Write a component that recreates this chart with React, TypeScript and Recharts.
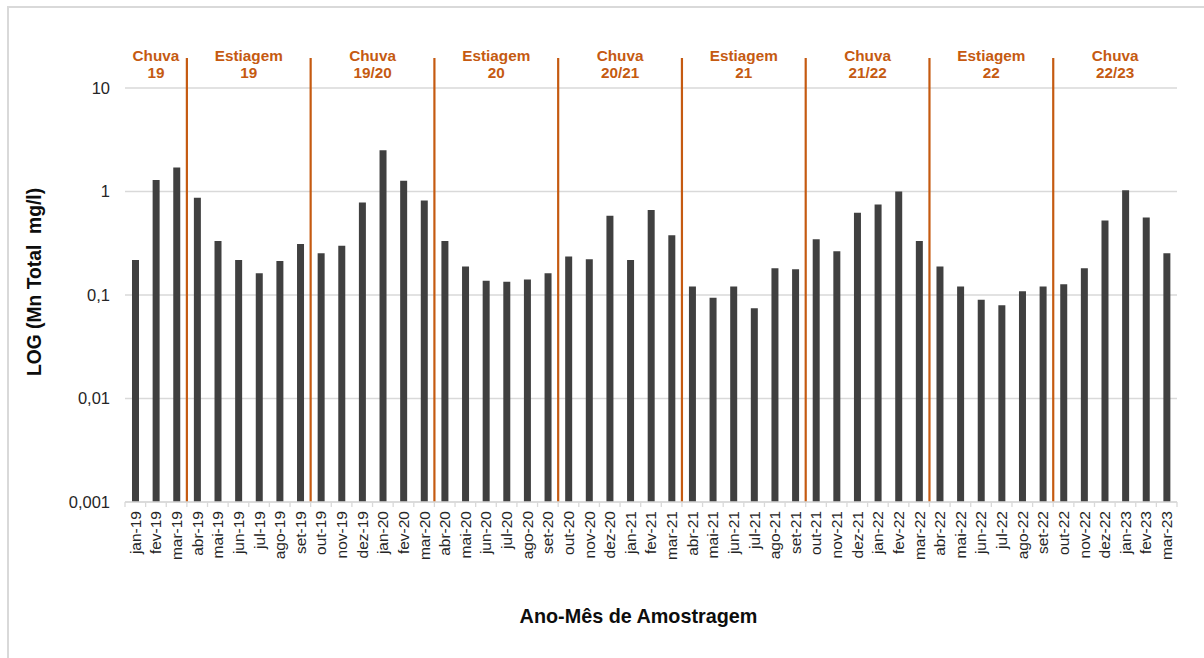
import React from 'react';
import { BarChart, Bar, XAxis, YAxis, CartesianGrid, ReferenceArea } from 'recharts';

const months: string[] = [
  'jan-19', 'fev-19', 'mar-19', 'abr-19', 'mai-19', 'jun-19', 'jul-19', 'ago-19', 'set-19', 'out-19', 'nov-19', 'dez-19',
  'jan-20', 'fev-20', 'mar-20', 'abr-20', 'mai-20', 'jun-20', 'jul-20', 'ago-20', 'set-20', 'out-20', 'nov-20', 'dez-20',
  'jan-21', 'fev-21', 'mar-21', 'abr-21', 'mai-21', 'jun-21', 'jul-21', 'ago-21', 'set-21', 'out-21', 'nov-21', 'dez-21',
  'jan-22', 'fev-22', 'mar-22', 'abr-22', 'mai-22', 'jun-22', 'jul-22', 'ago-22', 'set-22', 'out-22', 'nov-22', 'dez-22',
  'jan-23', 'fev-23', 'mar-23',
];

const mnTotal: number[] = [
  0.218, 1.29, 1.71, 0.869, 0.332, 0.218, 0.162, 0.213, 0.311, 0.253, 0.299, 0.784,
  2.51, 1.27, 0.82, 0.332, 0.188, 0.137, 0.134, 0.141, 0.162, 0.236, 0.222, 0.582,
  0.218, 0.661, 0.377, 0.121, 0.094, 0.121, 0.0745, 0.181, 0.177, 0.345, 0.264, 0.622,
  0.75, 1.0, 0.332, 0.188, 0.121, 0.09, 0.0796, 0.109, 0.121, 0.127, 0.181, 0.526,
  1.03, 0.562, 0.253,
];

const yTicks: number[] = [0.001, 0.01, 0.1, 1, 10];

const periodNames: string[] = ['Chuva', 'Estiagem', 'Chuva', 'Estiagem', 'Chuva', 'Estiagem', 'Chuva', 'Estiagem', 'Chuva'];
const periodYears: string[] = ['19', '19', '19/20', '20', '20/21', '21', '21/22', '22', '22/23'];
const periodStart: string[] = ['jan-19', 'abr-19', 'out-19', 'abr-20', 'out-20', 'abr-21', 'out-21', 'abr-22', 'out-22'];
const periodEnd: string[] = ['mar-19', 'set-19', 'mar-20', 'set-20', 'mar-21', 'set-21', 'mar-22', 'set-22', 'mar-23'];

const data = months.map((m, i) => ({ month: m, value: mnTotal[i] }));

const CHART_W = 1204;
const CHART_H = 658;
const MARGIN = { top: 88, right: 27, left: 0, bottom: 0 };
const Y_AXIS_W = 125;
const X_AXIS_H = 156;
const BAND = (CHART_W - MARGIN.right - MARGIN.left - Y_AXIS_W) / months.length;

const ORANGE = '#C55A11';
const FONT = '"Liberation Sans", Arial, sans-serif';

const XTick = (props: any) => {
  const { x, y, payload, index } = props;
  const isLast = index === months.length - 1;
  return (
    <g>
      <line x1={x - BAND / 2} x2={x - BAND / 2} y1={y} y2={y + 5} stroke="#d9d9d9" strokeWidth={1.3} />
      {isLast && (
        <line x1={x + BAND / 2} x2={x + BAND / 2} y1={y} y2={y + 5} stroke="#d9d9d9" strokeWidth={1.3} />
      )}
      <g transform={`translate(${x},${y + 9})`}>
        <text
          transform="rotate(-90)"
          textAnchor="end"
          dy="0.35em"
          fontSize={15.5}
          fontFamily={FONT}
          fill="#262626"
        >
          {payload.value}
        </text>
      </g>
    </g>
  );
};

const makePeriodShape = (i: number) => (p: any) => {
  const { x, y, width, height } = p;
  const cx = x + width / 2;
  return (
    <g>
      {i > 0 && (
        <line x1={x} x2={x} y1={y - 30} y2={y + height} stroke={ORANGE} strokeWidth={2.2} />
      )}
      <text x={cx} y={y - 27} textAnchor="middle" fontSize={15.3} fontWeight="bold" fontFamily={FONT} fill={ORANGE}>
        {periodNames[i]}
      </text>
      <text x={cx} y={y - 10} textAnchor="middle" fontSize={15.3} fontWeight="bold" fontFamily={FONT} fill={ORANGE}>
        {periodYears[i]}
      </text>
    </g>
  );
};

const fmt = (v: number) => String(v).replace('.', ',');

export default function App() {
  return (
    <div style={{ position: 'fixed', left: 0, top: 0, width: CHART_W, height: CHART_H, overflow: 'hidden', background: '#fff' }}>
      <div
        style={{
          position: 'absolute',
          left: 7,
          top: 6,
          width: 1220,
          height: 680,
          border: '2px solid #d9d9d9',
          boxSizing: 'border-box',
        }}
      />
      <div style={{ position: 'absolute', left: 0, top: 0 }}>
        <BarChart width={CHART_W} height={CHART_H} data={data} margin={MARGIN}>
          <CartesianGrid vertical={false} stroke="#d9d9d9" strokeWidth={1.3} />
          <XAxis
            dataKey="month"
            interval={0}
            height={X_AXIS_H}
            tickLine={false}
            tickSize={0}
            tickMargin={0}
            axisLine={{ stroke: '#d9d9d9', strokeWidth: 1.3 }}
            tick={<XTick />}
            label={{
              value: 'Ano-Mês de Amostragem',
              content: () => (
                <text x={638.5} y={623} textAnchor="middle" fontSize={19.8} fontWeight="bold" fontFamily={FONT} fill="#0d0d0d">
                  Ano-Mês de Amostragem
                </text>
              ),
            }}
          />
          <YAxis
            scale="log"
            type="number"
            domain={[0.001, 10]}
            allowDataOverflow
            ticks={yTicks}
            width={Y_AXIS_W}
            tickLine={false}
            axisLine={false}
            tickSize={0}
            tickMargin={15}
            tickFormatter={fmt}
            tick={{ fontSize: 16.5, fontFamily: FONT, fill: '#262626' }}
            label={{
              value: 'LOG (Mn Total  mg/l)',
              content: () => (
                <text
                  transform="translate(41,282) rotate(-90)"
                  textAnchor="middle"
                  fontSize={19.3}
                  fontWeight="bold"
                  fontFamily={FONT}
                  fill="#0d0d0d"
                  style={{ whiteSpace: 'pre' }}
                >
                  LOG (Mn Total  mg/l)
                </text>
              ),
            }}
          />
          <Bar dataKey="value" fill="#404040" barSize={7} isAnimationActive={false} />
          {periodStart.map((s, i) => (
            <ReferenceArea
              key={`p${i}`}
              x1={s}
              x2={periodEnd[i]}
              ifOverflow="visible"
              fill="none"
              shape={makePeriodShape(i)}
            />
          ))}
        </BarChart>
      </div>
    </div>
  );
}
